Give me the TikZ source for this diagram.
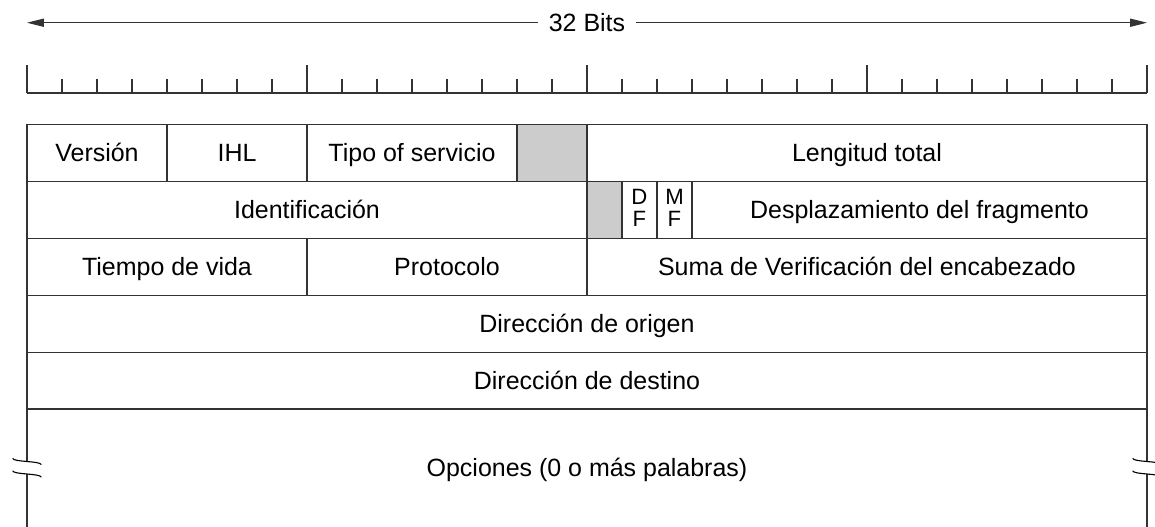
\documentclass[tikz,border=0pt]{standalone}
\usepackage{fontspec}
\setmainfont{Liberation Sans}
\usetikzlibrary{positioning,arrows.meta}
\tikzstyle{cell} = [draw=black!80, line width=1pt, outer sep=0pt, inner sep=0pt, minimum height=1.626cm]
\tikzstyle{fieldtext} = [font=\fontsize{20.3}{24}\selectfont, text height=19.3pt, text depth=4.75pt]
\tikzstyle{field} = [cell, fieldtext]
\tikzstyle{flag} = [cell, font=\fontsize{18}{17.5}\selectfont, align=center, text depth=3.5pt, minimum width=1cm]
\tikzstyle{reserved} = [cell, fill=black!20]
\tikzstyle{rule} = [draw=black!80, line width=1pt]
\tikzstyle{breakmark} = [draw=black, line width=0.9pt]

\begin{document}
\begin{tikzpicture}
\useasboundingbox (-0.771,-15.057) rectangle (32.229,0);
% width arrow
\coordinate (arrowleft) at (0,-0.649);
\coordinate (arrowright) at (32,-0.649);
\draw[rule, {Triangle[length=4.8mm,width=2.3mm]}-{Triangle[length=4.8mm,width=2.3mm]}] (arrowleft) -- (arrowright);
\node[fill=white, inner xsep=0.3cm, fieldtext] (bits) at (16,-0.649) {32 Bits};
% bit ruler
\draw[rule] (0,-2.657) -- (32,-2.657);
\foreach \b in {1,...,31} \draw[rule] (\b,-2.657) -- ++(0,0.4);
\foreach \b in {0,8,...,32} \draw[rule] (\b,-2.657) -- ++(0,0.8);
% header words
\node[field, minimum width=4cm, anchor=north west] (version) at (0,-3.557) {Versión};
\node[field, minimum width=4cm, right=0pt of version] (ihl) {IHL};
\node[field, minimum width=6cm, right=0pt of ihl] (tos) {Tipo of servicio};
\node[reserved, minimum width=2cm, right=0pt of tos] (tosfree) {};
\node[field, minimum width=16cm, right=0pt of tosfree] (length) {Lengitud total};

\node[field, minimum width=16cm, anchor=north west] (ident) at (version.south west) {Identificación};
\node[reserved, minimum width=1cm, right=0pt of ident] (flagfree) {};
\node[flag, right=0pt of flagfree] (df) {D\\F};
\node[flag, right=0pt of df] (mf) {M\\F};
\node[field, minimum width=13cm, right=0pt of mf] (offset) {Desplazamiento del fragmento};

\node[field, minimum width=8cm, anchor=north west] (ttl) at (ident.south west) {Tiempo de vida};
\node[field, minimum width=8cm, right=0pt of ttl] (protocol) {Protocolo};
\node[field, minimum width=16cm, right=0pt of protocol] (checksum) {Suma de Verificación del encabezado};

\node[field, minimum width=32cm, anchor=north west] (source) at (ttl.south west) {Dirección de origen};
\node[field, minimum width=32cm, anchor=north west] (dest) at (source.south west) {Dirección de destino};

\node[fieldtext] (options) at (16,-13.371) {Opciones (0 o más palabras)};
% open sides with break marks
\foreach \x in {0,32} {
  \draw[rule] (\x,-11.686) -- (\x,-13.186);
  \draw[rule] (\x,-13.543) -- (\x,-15.3);
  \foreach \y in {-13.186,-13.543}
    \draw[breakmark] (\x-0.41,\y+0.09) .. controls (\x-0.38,\y-0.02) and (\x+0.38,\y+0.02) .. (\x+0.41,\y-0.09);
}
\end{tikzpicture}
\end{document}
